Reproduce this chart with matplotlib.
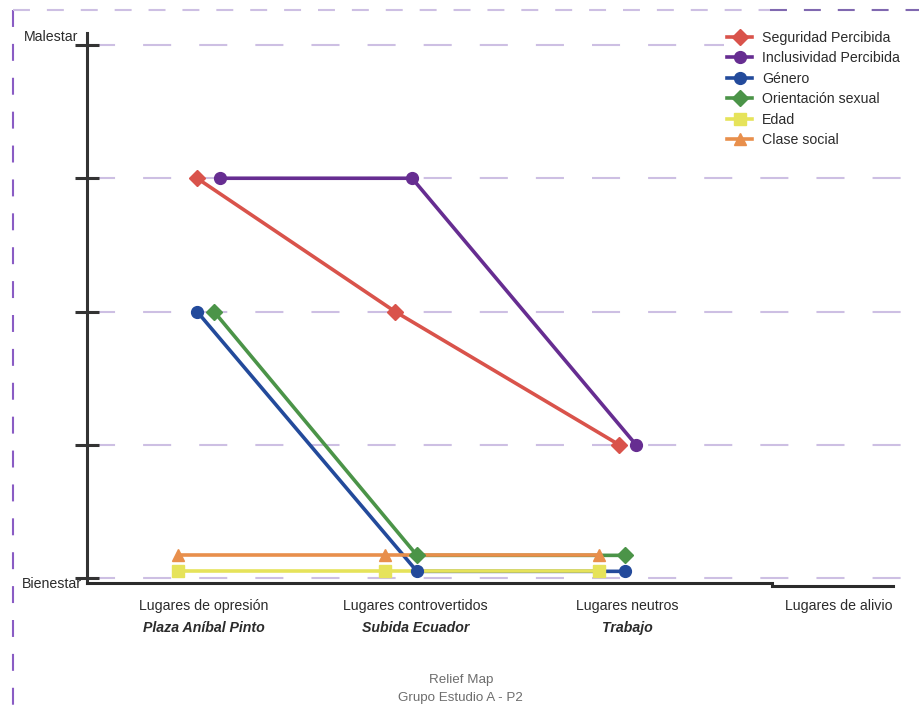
import matplotlib
matplotlib.use('Agg')
import matplotlib.pyplot as plt
from matplotlib.lines import Line2D
from matplotlib.transforms import ScaledTranslation, blended_transform_factory

W, H = 919, 719
plt.rcParams['font.family'] = ['Liberation Sans', 'DejaVu Sans']
plt.rcParams['lines.scale_dashes'] = False

# ---------------- data ----------------
categories = ["Lugares de opresión", "Lugares controvertidos", "Lugares neutros", "Lugares de alivio"]
places = ["Plaza Aníbal Pinto", "Subida Ecuador", "Trabajo", ""]
ytick_values = [0, 1, 2, 3, 4]
ytick_labels = ["Bienestar", "", "", "", "Malestar"]

series_names = ["Seguridad Percibida", "Inclusividad Percibida", "Género",
                "Orientación sexual", "Edad", "Clase social"]
seguridad = [3, 2, 1]
inclusividad = [3, 3, 1]
genero = [2, 0.05, 0.05]
orientacion = [2, 0.17, 0.17]
edad = [0.05, 0.05, 0.05]
clase = [0.17, 0.17, 0.17]
series_values = [seguridad, inclusividad, genero, orientacion, edad, clase]

# small horizontal dodge of each point (in category units)
seguridad_dx = [-0.033, -0.098, -0.039]
inclusividad_dx = [0.076, -0.017, 0.041]
genero_dx = [-0.033, 0.006, -0.011]
orientacion_dx = [0.047, 0.006, -0.011]
edad_dx = [-0.123, -0.145, -0.134]
clase_dx = [-0.123, -0.145, -0.134]
series_dx = [seguridad_dx, inclusividad_dx, genero_dx, orientacion_dx, edad_dx, clase_dx]

colors = ["#d9534b", "#662d91", "#234a9b", "#4b9448", "#e6e35a", "#e88f4c"]
markers = ["D", "o", "o", "D", "s", "^"]
msizes = [8.0, 8.5, 8.5, 8.0, 8.2, 8.7]

# ---------------- layout ----------------
fig = plt.figure(figsize=(W / 100, H / 100), dpi=100)
ax_left, ax_right, ax_top, ax_bottom = 87, 919, 33, 583
ax = fig.add_axes([ax_left / W, 1 - ax_bottom / H, (ax_right - ax_left) / W, (ax_bottom - ax_top) / H])

cat_px0, cat_step = 204, 211.67
px_to_x = lambda px: (px - cat_px0) / cat_step
ax.set_xlim(px_to_x(ax_left), px_to_x(ax_right))
y_unit = 133.25
ax.set_ylim(-(ax_bottom - 578) / y_unit, (578 - ax_top) / y_unit)

for s in ['top', 'right', 'bottom']:
    ax.spines[s].set_visible(False)
ax.spines['left'].set_color('#333333')
ax.spines['left'].set_linewidth(2.2)

ax.set_xticks([])
ax.set_yticks(ytick_values)
ax.set_yticklabels([])
ax.tick_params(axis='y', direction='inout', length=17, width=2.2, color='#333333')

ax.yaxis.grid(True, color='#cdbfe3', linewidth=1.5, dashes=(20.2, 20.2))
ax.set_axisbelow(True)

FS = 10.2
# y labels
ytrans = ax.get_yaxis_transform()
label_offsets = {"Malestar": (-9, 8), "Bienestar": (-5, -6)}
for v, lab in zip(ytick_values, ytick_labels):
    if lab:
        dx, dy = label_offsets[lab]
        ax.text(0, v, lab, transform=ytrans + ScaledTranslation(dx / 100, dy / 100, fig.dpi_scale_trans),
                ha='right', va='center', fontsize=FS, color='#2b2b2b')

# series
handles = []
for name, vals, dxs, c, m, ms in zip(series_names, series_values, series_dx, colors, markers, msizes):
    xs = [i + d for i, d in enumerate(dxs)]
    ax.plot(xs, vals, color=c, lw=2.6, zorder=2, solid_capstyle='butt')
    ax.plot(xs, vals, ls='none', marker=m, ms=ms, color=c, zorder=3)
    handles.append(Line2D([], [], color=c, lw=2.6, marker=m, ms=ms, label=name))

# category labels
xtrans = blended_transform_factory(ax.transData, ax.transAxes)
for i, (cat, pl) in enumerate(zip(categories, places)):
    ax.text(i, 0, cat, transform=xtrans + ScaledTranslation(0, -23 / 100, fig.dpi_scale_trans),
            ha='center', va='center', fontsize=FS, color='#2b2b2b')
    if pl:
        ax.text(i, 0, pl, transform=xtrans + ScaledTranslation(0, -45 / 100, fig.dpi_scale_trans),
                ha='center', va='center', fontsize=FS, color='#2b2b2b',
                fontweight='bold', fontstyle='italic')

# bottom axis line (with small step at the right)
fig.add_artist(Line2D([ax_left / W, 772 / W], [1 - 583 / H, 1 - 583 / H], color='#2b2b2b', lw=2.2,
                      transform=fig.transFigure))
fig.add_artist(Line2D([772 / W, 893 / W], [1 - 585.5 / H, 1 - 585.5 / H], color='#2b2b2b', lw=2.2,
                      transform=fig.transFigure))

# legend
leg = ax.legend(handles=handles, loc='upper left', bbox_to_anchor=(724 / W, 1 - 28 / H),
                bbox_transform=fig.transFigure, fontsize=FS, frameon=True, facecolor='white',
                edgecolor='none', framealpha=1, fancybox=False, borderpad=0.2, borderaxespad=0,
                handlelength=1.8, handletextpad=0.7, labelspacing=0.46)
for t in leg.get_texts():
    t.set_color('#2b2b2b')

# title block
fig.text(461 / W, 1 - 680 / H, "Relief Map", ha='center', va='center', fontsize=9.6, color='#6d6d6d')
fig.text(460 / W, 1 - 698 / H, "Grupo Estudio A - P2", ha='center', va='center', fontsize=9.6, color='#6d6d6d')

# dashed frame
fig.add_artist(Line2D([13 / W, 13 / W], [1 - 10 / H, 0], color='#8a5cc4', lw=1.5, dashes=(12.2, 12.2),
                      transform=fig.transFigure))
fig.add_artist(Line2D([13 / W, 770 / W], [1 - 10 / H, 1 - 10 / H], color='#cdbfe3', lw=1.5,
                      dashes=(12.2, 12.2), transform=fig.transFigure))
fig.add_artist(Line2D([770 / W, 1], [1 - 10 / H, 1 - 10 / H], color='#8068b0', lw=1.5,
                      dashes=(12.2, 12.2), transform=fig.transFigure))

fig.savefig('out.png', dpi=100, facecolor='white')
